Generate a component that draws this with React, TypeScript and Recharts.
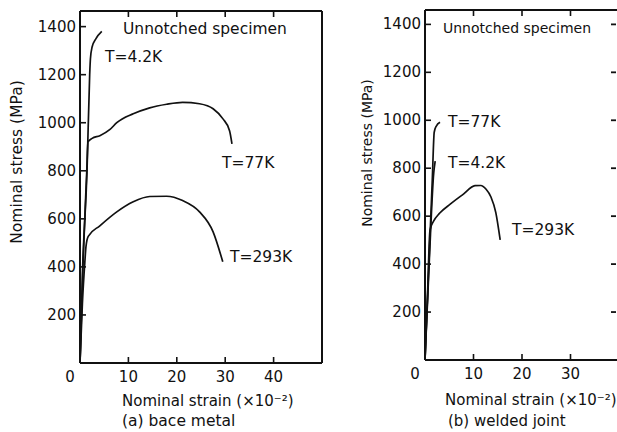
import { Line, LineChart, XAxis, YAxis } from "recharts"

// strain in units of 1e-2, stress in MPa
const strainTicksBase = [0, 10, 20, 30, 40]
const strainTicksWeld = [0, 10, 20, 30]
const stressTicks = [200, 400, 600, 800, 1000, 1200, 1400]

const base4K: Array<[number, number]> = [
  [0, 0], [0.55, 400], [1.45, 800], [2.0, 1200], [2.15, 1265], [2.5, 1315], [3.3, 1350], [4.5, 1380],
]
const base77K: Array<[number, number]> = [
  [0, 0], [0.6, 400], [1.4, 800], [1.65, 920], [2.5, 935], [4.1, 946], [6.2, 972], [7.6, 1000],
  [11, 1037], [14.4, 1062], [17.9, 1077], [21.2, 1085], [24.7, 1079], [27.5, 1058], [29.5, 1017],
  [30.9, 967], [31.4, 912],
]
const base293K: Array<[number, number]> = [
  [0, 0], [0.5, 250], [1.0, 420], [1.24, 485], [1.7, 527], [4.1, 571], [7.6, 629], [11, 671],
  [14.4, 693], [17.9, 694], [21.2, 676], [24.7, 629], [27.5, 546], [29.5, 421],
]

const weld4K: Array<[number, number]> = [[0, 0], [0.9, 420], [1.8, 780], [2.1, 830]]
const weld77K: Array<[number, number]> = [
  [0, 0], [0.8, 400], [1.5, 750], [1.9, 950], [2.3, 975], [3.1, 992],
]
const weld293K: Array<[number, number]> = [
  [0, 0], [0.5, 260], [1.03, 542], [1.8, 580], [3.0, 612], [5.2, 650], [7.8, 690], [10.3, 727],
  [11.5, 728], [12.6, 712], [13.6, 680], [14.6, 615], [15.5, 501],
]

const ink = "#111"
const font = "'DejaVu Sans', sans-serif"

const toPoints = (pairs: Array<[number, number]>) => pairs.map(([x, y]) => ({ x, y }))

function BottomTick({ x, y, payload }: any) {
  const v = payload.value
  return (
    <g>
      {v !== 0 && <line x1={x} y1={y} x2={x} y2={y - 6} stroke={ink} strokeWidth={1.6} />}
      <text x={v === 0 ? x - 10 : x} y={y + 19} textAnchor="middle" fontSize={15} fontFamily={font} fill={ink}>
        {v}
      </text>
    </g>
  )
}

function TopTick({ x, y, payload }: any) {
  if (payload.value === 0) return <g />
  return <line x1={x} y1={y} x2={x} y2={y + 6} stroke={ink} strokeWidth={1.6} />
}

function LeftTick({ x, y, payload }: any) {
  return (
    <g>
      <line x1={x} y1={y} x2={x + 6} y2={y} stroke={ink} strokeWidth={1.6} />
      <text x={x - 4} y={y + 5} textAnchor="end" fontSize={15} fontFamily={font} fill={ink}>
        {payload.value}
      </text>
    </g>
  )
}

function RightDash({ x, y }: any) {
  return <line x1={x - 8} y1={y} x2={x - 3} y2={y} stroke={ink} strokeWidth={1.8} />
}

function Panel({
  left, width, height, margin, xMax, yMax, xTicks, series, rightTicks,
}: {
  left: number
  width: number
  height: number
  margin: { top: number; right: number; bottom: number; left: number }
  xMax: number
  yMax: number
  xTicks: number[]
  series: Array<Array<[number, number]>>
  rightTicks: boolean
}) {
  // axes are 1px thick boxes: recharts skips axes whose width or height is 0
  return (
    <div style={{ position: "absolute", left, top: 0 }}>
      <LineChart width={width} height={height} margin={margin}>
        <XAxis
          type="number"
          dataKey="x"
          domain={[0, xMax]}
          allowDataOverflow
          ticks={xTicks}
          height={1}
          tickSize={0}
          tickMargin={0}
          tickLine={false}
          tick={<BottomTick />}
          axisLine={{ stroke: ink, strokeWidth: 2 }}
        />
        <XAxis
          xAxisId="top"
          orientation="top"
          type="number"
          dataKey="x"
          domain={[0, xMax]}
          allowDataOverflow
          ticks={xTicks}
          height={1}
          tickSize={0}
          tickMargin={0}
          tickLine={false}
          tick={<TopTick />}
          axisLine={{ stroke: ink, strokeWidth: 2 }}
        />
        <YAxis
          type="number"
          domain={[0, yMax]}
          allowDataOverflow
          ticks={stressTicks}
          width={1}
          tickSize={0}
          tickMargin={0}
          tickLine={false}
          tick={<LeftTick />}
          axisLine={{ stroke: ink, strokeWidth: 2 }}
        />
        <YAxis
          yAxisId="right"
          orientation="right"
          type="number"
          domain={[0, yMax]}
          allowDataOverflow
          ticks={stressTicks}
          width={1}
          tickSize={0}
          tickMargin={0}
          tickLine={false}
          tick={rightTicks ? <RightDash /> : false}
          axisLine={{ stroke: ink, strokeWidth: 2 }}
        />
        {series.map((s, i) => (
          <Line
            key={i}
            data={toPoints(s)}
            dataKey="y"
            type="monotone"
            stroke={ink}
            strokeWidth={1.7}
            dot={false}
            activeDot={false}
            isAnimationActive={false}
          />
        ))}
      </LineChart>
    </div>
  )
}

const label = (left: number, top: number, text: string, size = 15.5) => (
  <div
    style={{
      position: "absolute", left, top: top - 10, lineHeight: "20px", fontSize: size,
      fontFamily: font, color: ink, whiteSpace: "nowrap",
    }}
  >
    {text}
  </div>
)

const vlabel = (cx: number, cy: number, text: string, size = 15) => (
  <div
    style={{
      position: "absolute", left: cx, top: cy, fontSize: size, fontFamily: font, color: ink,
      whiteSpace: "nowrap", lineHeight: "20px", transform: "translate(-50%, -50%) rotate(-90deg)",
    }}
  >
    {text}
  </div>
)

export default function App() {
  return (
    <div style={{ position: "absolute", left: 0, top: 0, width: 617, height: 432, overflow: "hidden", background: "#fff" }}>
      <Panel
        left={0}
        width={330}
        height={432}
        margin={{ top: 10, right: 7, bottom: 68, left: 79 }}
        xMax={50}
        yMax={1465}
        xTicks={strainTicksBase}
        series={[base4K, base77K, base293K]}
        rightTicks={false}
      />
      <Panel
        left={340}
        width={290}
        height={432}
        margin={{ top: 9, right: 10, bottom: 71, left: 84 }}
        xMax={40}
        yMax={1460}
        xTicks={strainTicksWeld}
        series={[weld4K, weld77K, weld293K]}
        rightTicks
      />

      {vlabel(17, 162, "Nominal stress (MPa)", 15.5)}
      {vlabel(367, 153, "Nominal stress (MPa)", 14)}

      {label(123, 29, "Unnotched specimen")}
      {label(105, 57, "T=4.2K")}
      {label(222, 163, "T=77K")}
      {label(230, 257, "T=293K")}

      {label(443, 28, "Unnotched specimen", 14)}
      {label(448, 122, "T=77K")}
      {label(448, 163, "T=4.2K")}
      {label(512, 230, "T=293K")}

      {label(122, 401, "Nominal strain (×10⁻²)", 15)}
      {label(445, 400, "Nominal strain (×10⁻²)", 15)}
      {label(122, 421, "(a) bace metal")}
      {label(448, 421, "(b) welded joint", 15)}
    </div>
  )
}
